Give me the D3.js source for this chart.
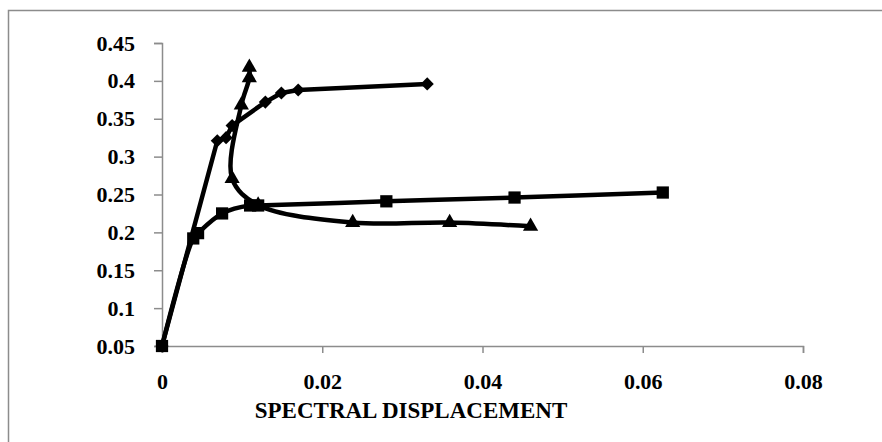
<!DOCTYPE html>
<html>
<head>
<meta charset="utf-8">
<script src="https://cdn.jsdelivr.net/npm/d3@7"></script>
<style>
  html, body { margin: 0; padding: 0; background: #fff; }
  #chart { width: 882px; height: 442px; }
  text { font-family: "Liberation Serif", "Times New Roman", serif; font-weight: bold; fill: #000; }
</style>
</head>
<body>
<div id="chart"></div>
<script>
const xTicks = [0, 0.02, 0.04, 0.06, 0.08];
const yTicks = [0.05, 0.1, 0.15, 0.2, 0.25, 0.3, 0.35, 0.4, 0.45];
const xTitle = 'SPECTRAL DISPLACEMENT';

// diamond series
const diamondX = [0, 0.0069, 0.008, 0.00875, 0.0129, 0.0149, 0.017, 0.0331];
const diamondY = [0.05, 0.321, 0.325, 0.341, 0.372, 0.384, 0.388, 0.396];

// square series
const squareX = [0, 0.0039, 0.0045, 0.0075, 0.011, 0.012, 0.028, 0.044, 0.0625];
const squareY = [0.05, 0.192, 0.199, 0.225, 0.2355, 0.2355, 0.241, 0.246, 0.2526];

// triangle series
const triangleX = [0.0109, 0.0109, 0.0099, 0.00875, 0.012, 0.0238, 0.0359, 0.046];
const triangleY = [0.418, 0.404, 0.368, 0.271, 0.236, 0.213, 0.213, 0.208];

const width = 882;
const height = 442;

const svg = d3.select('#chart')
  .append('svg')
  .attr('width', width)
  .attr('height', height);

// outer frame, cut off on the right and bottom like the source
svg.append('rect')
  .attr('x', 8.5)
  .attr('y', 10.5)
  .attr('width', 900)
  .attr('height', 500)
  .attr('fill', 'none')
  .attr('stroke', '#8c8c8c')
  .attr('stroke-width', 1.5);

const x = d3.scaleLinear().domain([0, 0.08]).range([162, 803]);
const y = d3.scaleLinear().domain([0.05, 0.45]).range([346, 43]);

const axisColor = '#8c8c8c';
const fmt = d => d3.format('')(d);

const xAxis = svg.append('g')
  .attr('transform', `translate(0,${y(0.05)})`)
  .call(d3.axisBottom(x).tickValues(xTicks).tickSize(7).tickPadding(20).tickFormat(fmt));

const yAxis = svg.append('g')
  .attr('transform', `translate(${x(0)},0)`)
  .call(d3.axisLeft(y).tickValues(yTicks).tickSize(8).tickPadding(19).tickFormat(fmt));

[xAxis, yAxis].forEach(g => {
  g.select('.domain').attr('stroke', axisColor).attr('stroke-width', 1.5);
  g.selectAll('.tick line').attr('stroke', axisColor).attr('stroke-width', 1.5);
  g.selectAll('.tick text')
    .attr('font-size', 22)
    .attr('font-family', '"Liberation Serif", "Times New Roman", serif')
    .attr('font-weight', 'bold')
    .attr('fill', '#000');
});

svg.append('text')
  .attr('x', 411)
  .attr('y', 418)
  .attr('text-anchor', 'middle')
  .attr('font-size', 23)
  .text(xTitle);

const smooth = d3.curveCatmullRom.alpha(0.5);

const series = [
  { xs: diamondX, ys: diamondY, symbol: d3.symbolDiamond2, size: 110, curve: d3.curveLinear },
  { xs: squareX, ys: squareY, symbol: d3.symbolSquare, size: 150, curve: smooth },
  { xs: triangleX, ys: triangleY, symbol: d3.symbolTriangle, size: 100, curve: smooth }
];

series.forEach(s => {
  const pts = s.xs.map((v, i) => [v, s.ys[i]]);
  const line = d3.line()
    .x(d => x(d[0]))
    .y(d => y(d[1]))
    .curve(s.curve);

  svg.append('path')
    .datum(pts)
    .attr('d', line)
    .attr('fill', 'none')
    .attr('stroke', '#000')
    .attr('stroke-width', 4.5)
    .attr('stroke-linejoin', 'round');

  svg.selectAll(null)
    .data(pts)
    .enter()
    .append('path')
    .attr('transform', d => `translate(${x(d[0])},${y(d[1])})`)
    .attr('d', d3.symbol().type(s.symbol).size(s.size))
    .attr('fill', '#000');
});
</script>
</body>
</html>
